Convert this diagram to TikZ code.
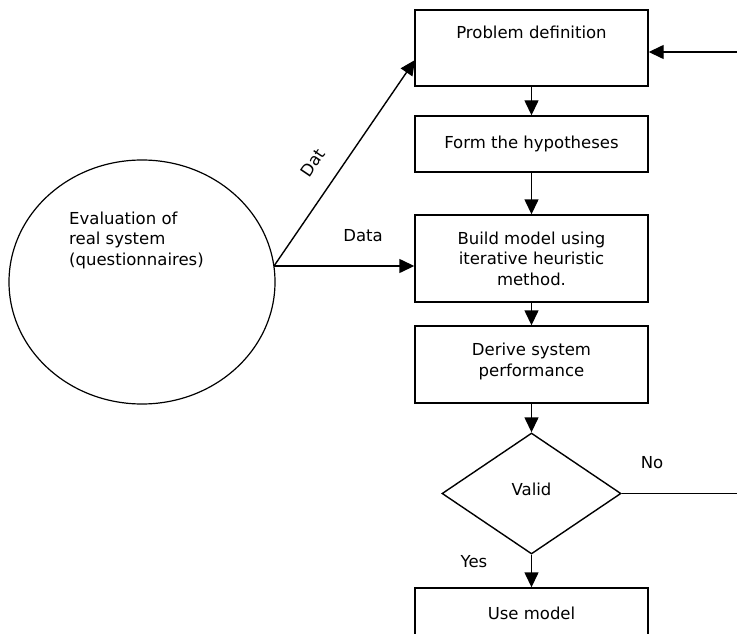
\documentclass[tikz,border=0pt]{standalone}
\usepackage{fontspec}
\setmainfont{DejaVu Sans}
\usetikzlibrary{shapes.geometric,arrows.meta,calc}
\begin{document}
\begin{tikzpicture}[x=1pt,y=-1pt,
  every node/.style={font=\fontsize{16.5}{20.5}\selectfont},
  box/.style={draw,line width=1.4pt,rectangle,minimum width=233pt,inner sep=2pt,align=center},
  flow/.style={line width=1.4pt,-{Triangle[length=15pt,width=14pt]}},
  plain/.style={line width=1.4pt},
  lbl/.style={inner sep=0pt}]
\useasboundingbox (0,0) rectangle (737,634);
% nodes
\node[box,minimum height=76pt,text height=12pt,text depth=30pt] (pd) at (531.5,48) {Problem definition};
\node[box,minimum height=56pt] (fh) at (531.5,144) {Form the hypotheses};
\node[box,minimum height=87pt] (bm) at (531.5,258.5) {Build model using\\iterative heuristic\\method.};
\node[box,minimum height=77pt] (dp) at (531.5,364.5) {Derive system\\performance\\[-10.5pt]};
\node[draw,line width=1.4pt,diamond,aspect=1.48,minimum width=179pt,minimum height=121pt,inner sep=0pt,text height=12pt,text depth=8pt] (valid) at (531.5,493.5) {Valid};
\node[box,minimum height=64pt,text height=12pt,text depth=14pt] (um) at (531.5,620) {Use model};
\node[draw,line width=1.2pt,ellipse,minimum width=266pt,minimum height=244pt,inner sep=0pt] (ev) at (142,282) {};
\node[lbl,anchor=west,align=left] (evt) at (69,240) {Evaluation of\\real system\\(questionnaires)};
% coordinates
\coordinate (src) at (274,266);
\coordinate (pdin) at (415,60);
\coordinate (rin) at (737,52);
\coordinate (rout) at (737,493.5);
% connectors
\draw[flow] (pd) -- (fh);
\draw[flow] (fh) -- (bm);
\draw[flow] (bm) -- (dp);
\draw[flow] (dp) -- (valid);
\draw[flow] (valid) -- (um);
\draw[flow] (src) -- (pdin);
\draw[flow] (src) -- (src -| bm.west);
\draw[flow] (rin) -- (rin -| pd.east);
\draw[plain] (valid.east) -- (rout);
% labels
\node[lbl,rotate=56] (datl) at (313,163) {Dat};
\node[lbl] (datal) at (363,236) {Data};
\node[lbl] (nol) at (652,463) {No};
\node[lbl] (yesl) at (474,562) {Yes};
\end{tikzpicture}
\end{document}
